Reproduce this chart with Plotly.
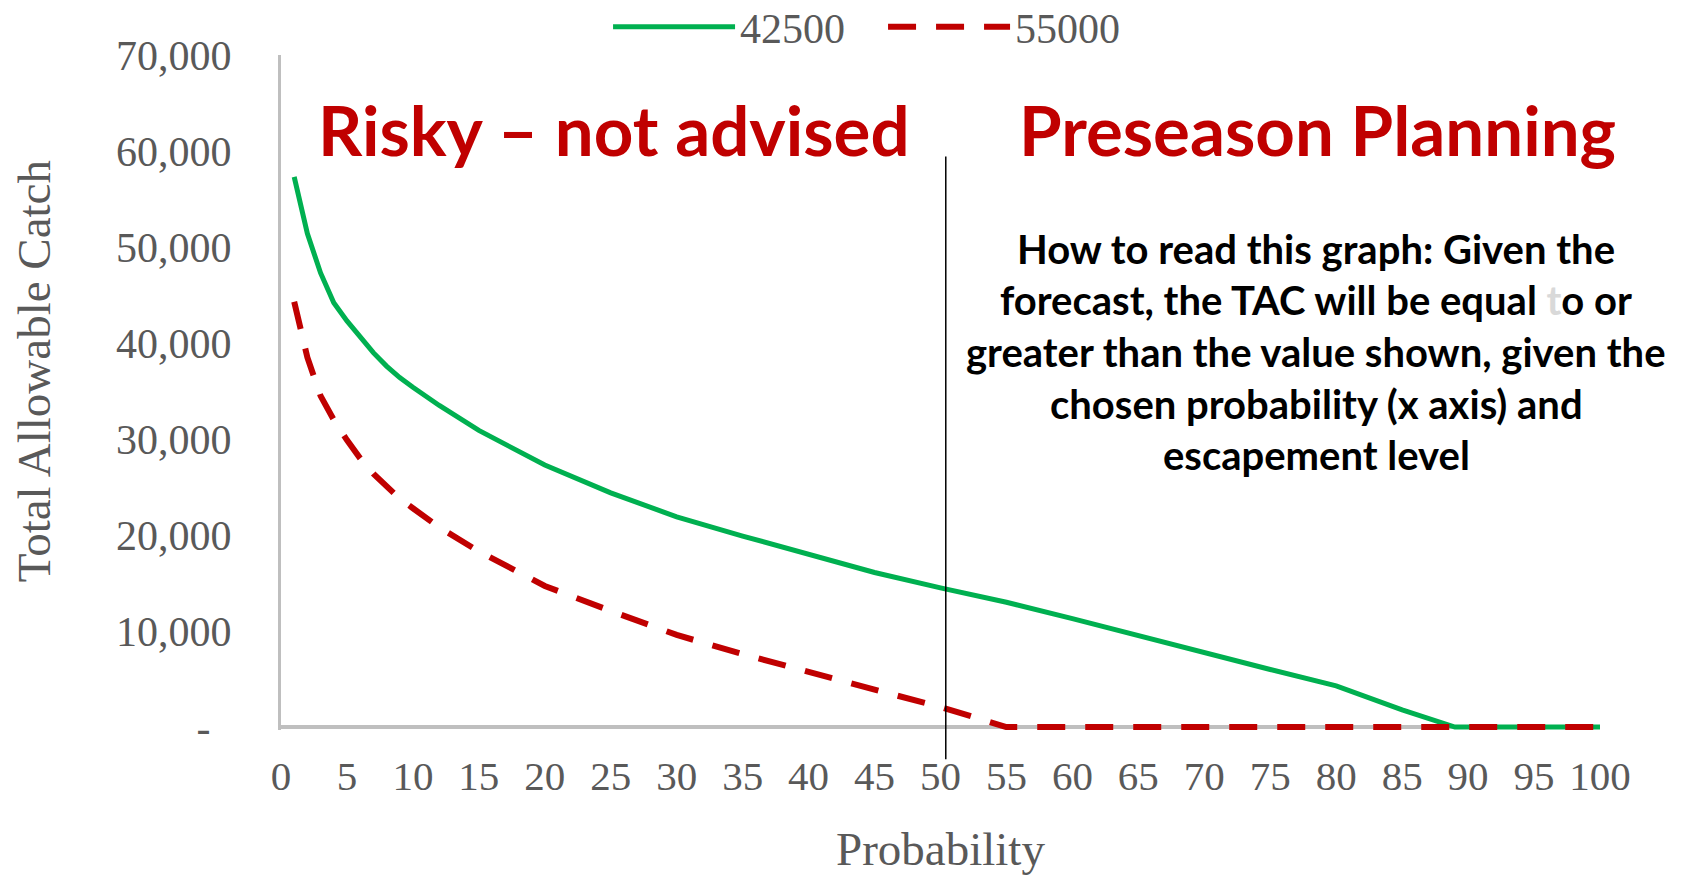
import plotly.graph_objects as go

# ---- data ----
prob_42500 = [1, 2, 3, 4, 5, 6, 7, 8, 9, 10, 12, 15, 20, 25, 30, 35, 40, 45, 50, 55, 60, 65, 70, 75, 80, 85, 89, 95, 100]
tac_42500 = [57300, 51400, 47300, 44200, 42300, 40600, 39000, 37600, 36400, 35400, 33500, 30900, 27300, 24400,
             21900, 19900, 18000, 16100, 14500, 13000, 11300, 9500, 7800, 6000, 4300, 1800, 0, 0, 0]

prob_55000 = [1, 2, 3, 4, 5, 6, 7, 8, 9, 10, 12, 15, 20, 25, 30, 35, 40, 45, 50, 55, 60, 70, 80, 90, 100]
tac_55000 = [44300, 38500, 34500, 32000, 29900, 28000, 26400, 25000, 23800, 22800, 20800, 18300, 14700, 12100,
             9600, 7600, 5700, 3900, 2100, 0, 0, 0, 0, 0, 0]

series_names = ["42500", "55000"]
x_ticks = list(range(0, 101, 5))
y_ticks = [0, 10000, 20000, 30000, 40000, 50000, 60000, 70000]
y_tick_text = ["-\u00a0\u00a0", "10,000", "20,000", "30,000", "40,000", "50,000", "60,000", "70,000"]
divider_prob = 50.4

paragraph_lines = [
    "How to read this graph: Given the",
    "forecast, the TAC will be equal <span style='color:#D9D9D9'>t</span>o or",
    "greater than the value shown, given the",
    "chosen probability (x axis) and",
    "escapement level",
]

GRAY = "#595959"
SERIF = "Liberation Serif, Times New Roman, serif"
SANS_B = "Lato, Open Sans, sans-serif"

fig = go.Figure()
fig.add_trace(go.Scatter(x=prob_42500, y=tac_42500, mode="lines", name=series_names[0],
                         line=dict(color="#00B050", width=5)))
fig.add_trace(go.Scatter(x=prob_55000, y=tac_55000, mode="lines", name=series_names[1],
                         line=dict(color="#C00000", width=6, dash="28px,20px")))

fig.add_shape(type="line", xref="x", yref="paper", x0=divider_prob, x1=divider_prob,
              y0=-0.0432, y1=0.8497, line=dict(color="black", width=1.5))

fig.add_annotation(text="<b>Risky – not advised</b>", xref="paper", yref="paper", x=0.2525, y=0.889,
                   xanchor="center", yanchor="middle",
                   showarrow=False, font=dict(family=SANS_B, size=69, color="#C00000"))
fig.add_annotation(text="<b>Preseason Planning</b>", xref="paper", yref="paper", x=0.786, y=0.889,
                   xanchor="center", yanchor="middle",
                   showarrow=False, font=dict(family=SANS_B, size=69, color="#C00000"))

para_y = [0.7125, 0.6366, 0.5597, 0.4835, 0.4076]
for line_text, yy in zip(paragraph_lines, para_y):
    fig.add_annotation(text="<b>" + line_text + "</b>", xref="paper", yref="paper", x=0.785, y=yy,
                       xanchor="center", yanchor="middle",
                       showarrow=False, font=dict(family=SANS_B, size=40, color="black"))

# y-axis title (placed as rotated text to match the reference position)
fig.add_annotation(text="Total Allowable Catch", xref="paper", yref="paper", x=-0.187, y=0.532,
                   xanchor="center", yanchor="middle", textangle=-90, showarrow=False,
                   font=dict(family=SERIF, size=47, color=GRAY))

fig.update_layout(
    width=1678, height=867,
    margin=dict(l=273, r=86, t=47, b=145, autoexpand=False),
    plot_bgcolor="white", paper_bgcolor="white",
    showlegend=True,
    legend=dict(orientation="h", xref="container", yref="container", x=0.3576, xanchor="left",
                y=0.978, yanchor="middle", entrywidth=138,
                font=dict(family=SERIF, size=42, color=GRAY), itemwidth=122,
                bgcolor="rgba(0,0,0,0)"),
    xaxis=dict(range=[0, 100], tickvals=x_ticks, showgrid=False, showline=False, zeroline=False,
               ticks="", ticklabelstandoff=18, automargin=False,
               tickfont=dict(family=SERIF, size=41, color=GRAY),
               title=dict(text="Probability", font=dict(family=SERIF, size=47, color=GRAY), standoff=56)),
    yaxis=dict(range=[-300, 70000], tickvals=y_ticks, ticktext=y_tick_text, showgrid=False,
               showline=True, linecolor="#BFBFBF", linewidth=3,
               zeroline=True, zerolinecolor="#BFBFBF", zerolinewidth=4,
               ticks="", ticklabelstandoff=38, automargin=False,
               tickfont=dict(family=SERIF, size=42, color=GRAY)),
)

fig.write_html("out.html")
